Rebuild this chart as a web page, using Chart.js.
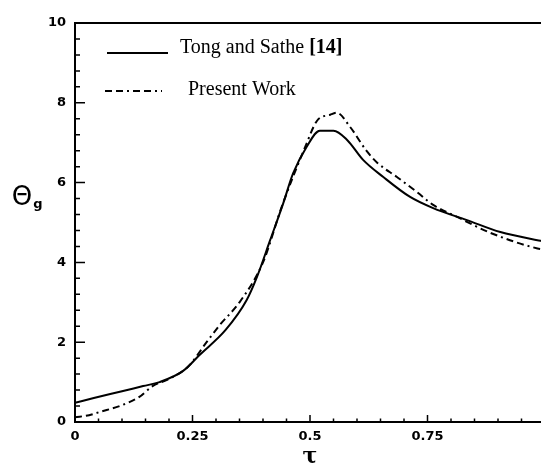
<!DOCTYPE html>
<html>
<head>
<meta charset="utf-8">
<script src="https://cdn.jsdelivr.net/npm/chart.js@4.4.1/dist/chart.umd.min.js"></script>
<style>
  html, body { margin: 0; padding: 0; background: #fff; overflow: hidden; }
  #wrap { position: relative; width: 560px; height: 465px; }
</style>
</head>
<body>
<div id="wrap"><canvas id="chart"></canvas></div>
<script>
// data
const tongX = [0, 0.04, 0.1, 0.145, 0.18, 0.23, 0.265, 0.32, 0.365, 0.387, 0.415, 0.443, 0.464, 0.493, 0.521, 0.55, 0.579, 0.613, 0.656, 0.713, 0.762, 0.834, 0.905, 1.0];
const tongY = [0.48, 0.6, 0.77, 0.9, 1.0, 1.28, 1.68, 2.3, 3.05, 3.63, 4.55, 5.48, 6.23, 6.9, 7.3, 7.3, 7.07, 6.57, 6.14, 5.64, 5.36, 5.06, 4.76, 4.52];
const workX = [0, 0.03, 0.052, 0.095, 0.137, 0.165, 0.2, 0.24, 0.28, 0.308, 0.35, 0.4, 0.44, 0.49, 0.515, 0.543, 0.557, 0.585, 0.62, 0.643, 0.685, 0.728, 0.762, 0.813, 0.884, 0.984, 1.0];
const workY = [0.12, 0.17, 0.25, 0.4, 0.63, 0.9, 1.08, 1.38, 2.0, 2.43, 3.0, 4.0, 5.4, 6.9, 7.55, 7.7, 7.75, 7.4, 6.8, 6.5, 6.14, 5.76, 5.44, 5.14, 4.74, 4.35, 4.32];

const seriesNames = ['Tong and Sathe ', 'Present Work'];
const refMark = '[14]';
const xTickLabels = ['0', '0.25', '0.5', '0.75', '1'];
const yTickLabels = ['0', '2', '4', '6', '8', '10'];
const xTitle = 'τ';
const yTitle = 'Θ';
const ySub = 'g';

const dashDot = [7, 4, 7, 4, 2, 4];

function pts(xs, ys) {
    return xs.map((x, i) => ({ x: x, y: ys[i] }));
}

function xLabel(v) {
    const k = v * 4;
    if (Math.abs(k - Math.round(k)) < 1e-6) return xTickLabels[Math.round(k)];
    return '';
}

function yLabel(v) {
    const k = v / 2;
    if (Math.abs(k - Math.round(k)) < 1e-6) return yTickLabels[Math.round(k)];
    return '';
}

const tickFont = { family: 'DejaVu Sans', size: 13, weight: 'bold' };

// frame, inward ticks, legend and titles
const decor = {
    id: 'decor',
    afterDraw(chart) {
        const ctx = chart.ctx;
        const a = chart.chartArea;
        const xs = chart.scales.x, ys = chart.scales.y;
        ctx.save();
        ctx.strokeStyle = '#000';
        ctx.lineWidth = 2;
        ctx.strokeRect(a.left, a.top, a.right - a.left, a.bottom - a.top);

        ctx.lineWidth = 1.5;
        ctx.beginPath();
        xs.ticks.forEach(t => {
            const px = xs.getPixelForValue(t.value);
            const len = xLabel(t.value) ? 7 : 3.5;
            ctx.moveTo(px, a.bottom);
            ctx.lineTo(px, a.bottom - len);
        });
        ys.ticks.forEach(t => {
            const py = ys.getPixelForValue(t.value);
            const len = yLabel(t.value) ? 10 : 5;
            ctx.moveTo(a.left, py);
            ctx.lineTo(a.left + len, py);
        });
        ctx.stroke();

        // legend
        ctx.lineWidth = 2;
        ctx.beginPath();
        ctx.moveTo(107, 53);
        ctx.lineTo(168, 53);
        ctx.stroke();
        ctx.setLineDash(dashDot);
        ctx.beginPath();
        ctx.moveTo(105, 91);
        ctx.lineTo(162, 91);
        ctx.stroke();
        ctx.setLineDash([]);

        ctx.fillStyle = '#000';
        ctx.textBaseline = 'alphabetic';
        ctx.textAlign = 'left';
        ctx.font = '20px "Liberation Serif"';
        ctx.fillText(seriesNames[0], 180, 53);
        const w = ctx.measureText(seriesNames[0]).width;
        ctx.font = 'bold 20px "Liberation Serif"';
        ctx.fillText(refMark, 180 + w, 53);
        ctx.font = '20px "Liberation Serif"';
        ctx.fillText(seriesNames[1], 188, 95);

        // axis titles
        ctx.textAlign = 'center';
        ctx.font = 'bold 22px "DejaVu Serif"';
        ctx.fillText(xTitle, 310, 463);
        ctx.font = '26px "DejaVu Sans"';
        ctx.fillText(yTitle, 22, 205);
        ctx.font = 'bold 13px "DejaVu Sans"';
        ctx.fillText(ySub, 38, 208);
        ctx.restore();
    }
};

new Chart(document.getElementById('chart').getContext('2d'), {
    type: 'scatter',
    data: {
        datasets: [{
            label: seriesNames[0],
            data: pts(tongX, tongY),
            showLine: true,
            borderColor: '#000',
            borderWidth: 2,
            pointRadius: 0,
            tension: 0.4,
            cubicInterpolationMode: 'monotone'
        }, {
            label: seriesNames[1],
            data: pts(workX, workY),
            showLine: true,
            borderColor: '#000',
            borderWidth: 2,
            borderDash: dashDot,
            pointRadius: 0,
            tension: 0.4,
            cubicInterpolationMode: 'monotone'
        }]
    },
    options: {
        responsive: true,
        maintainAspectRatio: false,
        animation: false,
        layout: { padding: { top: 23, right: 15, left: 0, bottom: 0 } },
        plugins: {
            legend: { display: false },
            tooltip: { enabled: false }
        },
        scales: {
            x: {
                type: 'linear',
                min: 0,
                max: 1,
                grid: { display: false, drawTicks: false },
                border: { display: false },
                ticks: {
                    stepSize: 0.05,
                    autoSkip: false,
                    maxRotation: 0,
                    padding: 7,
                    color: '#000',
                    font: tickFont,
                    callback: v => xLabel(v)
                },
                afterFit: s => { s.height = 43; }
            },
            y: {
                min: 0,
                max: 10,
                grid: { display: false, drawTicks: false },
                border: { display: false },
                ticks: {
                    stepSize: 0.4,
                    autoSkip: false,
                    padding: 9,
                    color: '#000',
                    font: tickFont,
                    callback: v => yLabel(v)
                },
                afterFit: s => { s.width = 75; }
            }
        }
    },
    plugins: [decor]
});
</script>
</body>
</html>
